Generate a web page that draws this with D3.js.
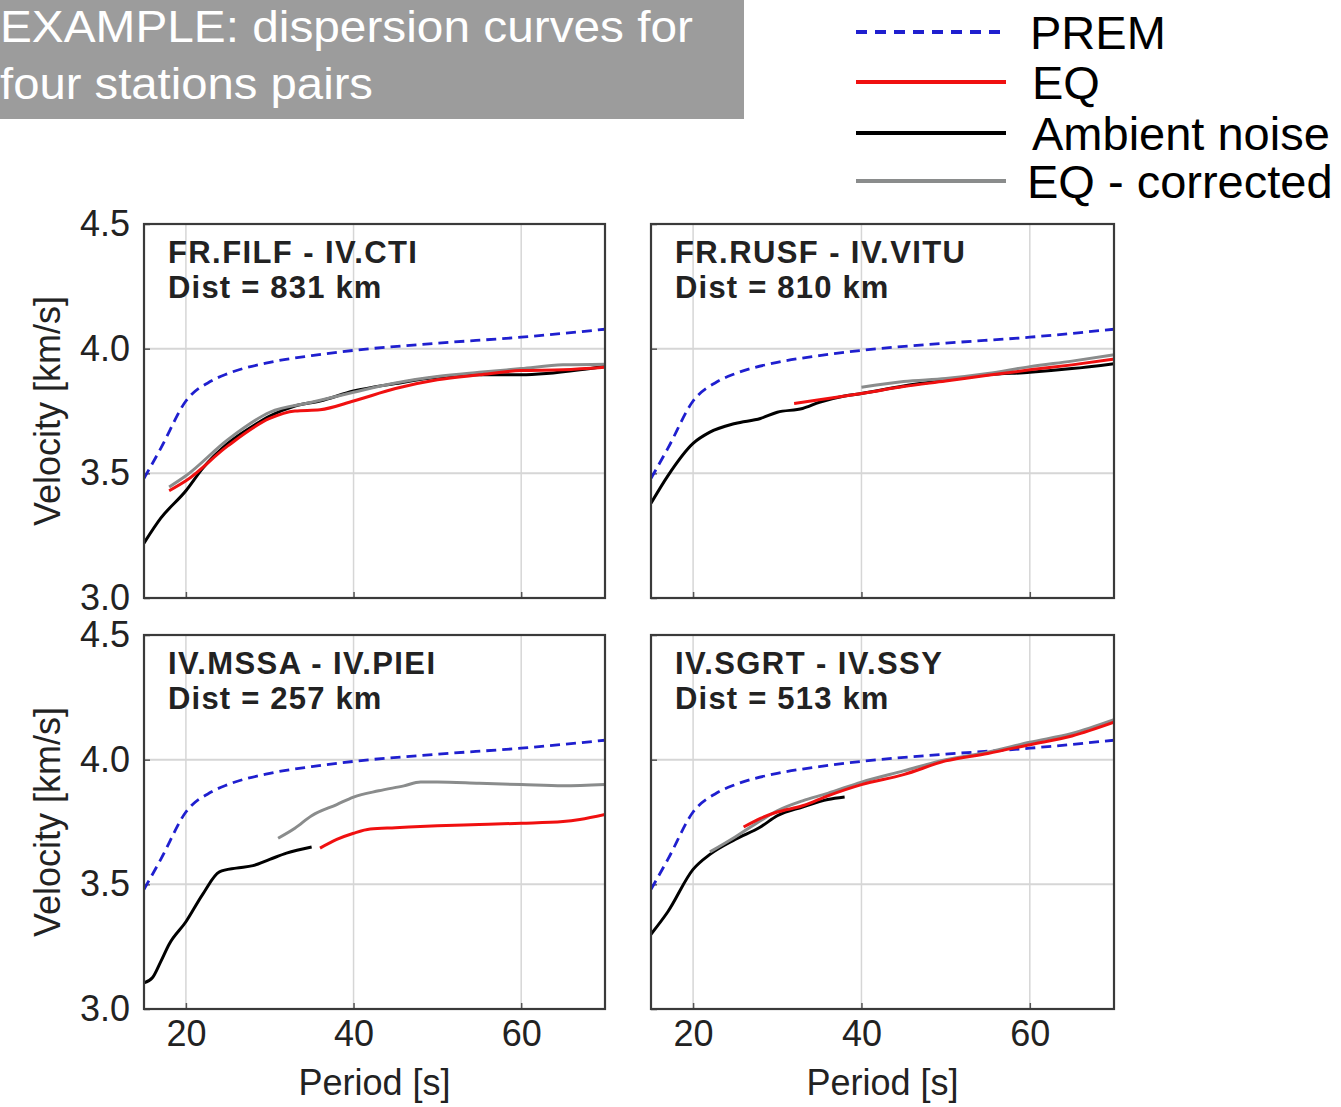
<!DOCTYPE html>
<html>
<head>
<meta charset="utf-8">
<script src="https://cdn.jsdelivr.net/npm/d3@7"></script>
<style>
  html, body { margin: 0; padding: 0; background: #fff; }
  svg { display: block; font-family: "Liberation Sans", Arial, Helvetica, sans-serif; }
</style>
</head>
<body>
<svg id="chart" width="1341" height="1107"></svg>
<script>
// ---------------- DATA ----------------
const titleLines = ["EXAMPLE: dispersion curves for", "four stations pairs"];
const legendLabels = ["PREM", "EQ", "Ambient noise", "EQ - corrected"];
const xTicks = [20, 40, 60];
const yTicks = [3.0, 3.5, 4.0, 4.5];
const yTickLabels = ["3.0", "3.5", "4.0", "4.5"];
const xLabel = "Period [s]";
const yLabel = "Velocity [km/s]";

// PREM reference curve (period s, velocity km/s)
const premPeriod = [15, 17, 20, 23, 25, 30, 35, 40, 50, 60, 70];
const premVel    = [3.48, 3.60, 3.79, 3.87, 3.90, 3.945, 3.972, 3.993, 4.022, 4.046, 4.078];

const panelTitles = ["FR.FILF - IV.CTI", "FR.RUSF - IV.VITU", "IV.MSSA - IV.PIEI", "IV.SGRT - IV.SSY"];
const panelDists  = ["Dist = 831 km", "Dist = 810 km", "Dist = 257 km", "Dist = 513 km"];

// Panel 1: FR.FILF - IV.CTI
const p1AmbPeriod = [15, 17, 20, 22, 25, 28, 30, 33, 36, 40, 45, 50, 55, 60, 63, 67, 70];
const p1AmbVel    = [3.22, 3.32, 3.43, 3.52, 3.62, 3.69, 3.73, 3.77, 3.79, 3.83, 3.86, 3.885, 3.895, 3.895, 3.90, 3.915, 3.93];
const p1EqPeriod  = [18, 20, 25, 30, 33, 36, 40, 45, 50, 55, 60, 65, 70];
const p1EqVel     = [3.43, 3.47, 3.61, 3.72, 3.75, 3.755, 3.79, 3.84, 3.875, 3.895, 3.912, 3.915, 3.925];
const p1CorPeriod = [18, 20, 25, 30, 35, 40, 45, 50, 55, 60, 65, 70];
const p1CorVel    = [3.445, 3.49, 3.635, 3.745, 3.785, 3.825, 3.862, 3.888, 3.905, 3.92, 3.935, 3.938];

// Panel 2: FR.RUSF - IV.VITU
const p2AmbPeriod = [15, 17, 20, 22, 25, 28, 30, 33, 35, 38, 40, 45, 50, 55, 60, 65, 70];
const p2AmbVel    = [3.38, 3.49, 3.62, 3.665, 3.70, 3.72, 3.745, 3.76, 3.785, 3.81, 3.82, 3.85, 3.873, 3.895, 3.905, 3.92, 3.94];
const p2EqPeriod  = [32, 35, 40, 45, 50, 55, 60, 65, 70];
const p2EqVel     = [3.78, 3.795, 3.82, 3.848, 3.87, 3.893, 3.915, 3.935, 3.958];
const p2CorPeriod = [40, 45, 50, 55, 60, 65, 70];
const p2CorVel    = [3.845, 3.868, 3.88, 3.90, 3.928, 3.95, 3.975];

// Panel 3: IV.MSSA - IV.PIEI
const p3AmbPeriod = [15, 16, 17, 18, 20, 22, 24, 26, 28, 30, 32, 35];
const p3AmbVel    = [3.105, 3.125, 3.19, 3.26, 3.35, 3.46, 3.55, 3.565, 3.575, 3.60, 3.625, 3.65];
const p3EqPeriod  = [36, 38, 40, 42, 45, 50, 55, 60, 65, 67, 70];
const p3EqVel     = [3.645, 3.68, 3.705, 3.722, 3.727, 3.735, 3.74, 3.745, 3.752, 3.76, 3.78];
const p3CorPeriod = [31, 33, 35, 38, 40, 43, 46, 48, 50, 55, 60, 65, 70];
const p3CorVel    = [3.685, 3.725, 3.775, 3.82, 3.85, 3.875, 3.895, 3.91, 3.91, 3.905, 3.90, 3.895, 3.90];

// Panel 4: IV.SGRT - IV.SSY
const p4AmbPeriod = [15, 17, 20, 22, 25, 28, 30, 33, 36, 38];
const p4AmbVel    = [3.30, 3.39, 3.56, 3.62, 3.68, 3.73, 3.775, 3.81, 3.84, 3.85];
const p4EqPeriod  = [26, 28, 30, 33, 36, 40, 45, 50, 55, 60, 65, 70];
const p4EqVel     = [3.73, 3.765, 3.79, 3.815, 3.855, 3.90, 3.94, 3.995, 4.025, 4.06, 4.095, 4.15];
const p4CorPeriod = [22, 25, 28, 30, 33, 36, 40, 45, 50, 55, 60, 65, 70];
const p4CorVel    = [3.63, 3.69, 3.755, 3.795, 3.835, 3.865, 3.91, 3.955, 4.00, 4.03, 4.07, 4.105, 4.16];

const panelSeries = [
  { amb: [p1AmbPeriod, p1AmbVel], eq: [p1EqPeriod, p1EqVel], cor: [p1CorPeriod, p1CorVel] },
  { amb: [p2AmbPeriod, p2AmbVel], eq: [p2EqPeriod, p2EqVel], cor: [p2CorPeriod, p2CorVel] },
  { amb: [p3AmbPeriod, p3AmbVel], eq: [p3EqPeriod, p3EqVel], cor: [p3CorPeriod, p3CorVel] },
  { amb: [p4AmbPeriod, p4AmbVel], eq: [p4EqPeriod, p4EqVel], cor: [p4CorPeriod, p4CorVel] }
];

// ---------------- STYLE ----------------
const colors = { prem: "#1f1fcf", eq: "#f01010", amb: "#000000", cor: "#8a8c8c" };
const svg = d3.select("#chart");

// Title box
svg.append("rect").attr("x", 0).attr("y", 0).attr("width", 744).attr("height", 119).attr("fill", "#9c9c9c");
svg.append("text").attr("x", 0).attr("y", 42).attr("font-size", 45)
  .attr("textLength", 693).attr("lengthAdjust", "spacingAndGlyphs")
  .attr("fill", "#fff").text(titleLines[0]);
svg.append("text").attr("x", 0).attr("y", 99).attr("font-size", 45)
  .attr("textLength", 373).attr("lengthAdjust", "spacingAndGlyphs")
  .attr("fill", "#fff").text(titleLines[1]);

// Legend
const legY = [32, 82, 133, 181];
const legTextY = [49, 99, 150, 198];
const legTextX = [1030, 1032, 1032, 1027];
const legColors = [colors.prem, colors.eq, colors.amb, colors.cor];
legendLabels.forEach((lab, i) => {
  svg.append("line").attr("x1", 856).attr("x2", 1006).attr("y1", legY[i]).attr("y2", legY[i])
    .attr("stroke", legColors[i]).attr("stroke-width", 4)
    .attr("stroke-dasharray", i === 0 ? "11,8" : null);
  svg.append("text").attr("x", legTextX[i]).attr("y", legTextY[i]).attr("font-size", 47)
    .attr("fill", "#000").text(lab);
});

// Panels
const cols = [[144, 605], [651, 1114]];
const rows = [[598, 224], [1009, 635]];

panelSeries.forEach((ps, idx) => {
  const col = idx % 2, row = Math.floor(idx / 2);
  const x = d3.scaleLinear().domain([15, 70]).range(cols[col]);
  const y = d3.scaleLinear().domain([3, 4.5]).range(rows[row]);
  const g = svg.append("g");
  const [x0, x1] = cols[col];
  const [y0, y1] = rows[row];

  // grid
  g.append("g").selectAll("line.vg").data(xTicks).join("line")
    .attr("x1", d => x(d)).attr("x2", d => x(d)).attr("y1", y1).attr("y2", y0)
    .attr("stroke", "#d6d6d6").attr("stroke-width", 1.5);
  g.append("g").selectAll("line.hg").data([3.5, 4.0]).join("line")
    .attr("x1", x0).attr("x2", x1).attr("y1", d => y(d)).attr("y2", d => y(d))
    .attr("stroke", "#d6d6d6").attr("stroke-width", 2);

  // axes (ticks inward, labels conditional)
  const xAxis = d3.axisBottom(x).tickValues(xTicks).tickSize(-6).tickPadding(10)
    .tickFormat(row === 1 ? d3.format("d") : () => "");
  const ax = g.append("g").attr("transform", `translate(0,${y0})`).call(xAxis);
  const yAxis = d3.axisLeft(y).tickValues(yTicks).tickSize(-6).tickPadding(14)
    .tickFormat(col === 0 ? ((d, i) => yTickLabels[i]) : () => "");
  const ay = g.append("g").attr("transform", `translate(${x0},0)`).call(yAxis);
  [ax, ay].forEach(a => {
    a.select(".domain").remove();
    a.selectAll(".tick line").attr("stroke", "#555").attr("stroke-width", 1.5);
    a.selectAll(".tick text").attr("font-size", 36).attr("fill", "#222")
      .attr("font-family", "Liberation Sans, Arial, sans-serif");
  });
  ax.selectAll(".tick text").attr("dy", "0.75em");

  // clip
  const clipId = "clip" + idx;
  svg.append("clipPath").attr("id", clipId).append("rect")
    .attr("x", x0).attr("y", y1).attr("width", x1 - x0).attr("height", y0 - y1);

  const line = d3.line().x(d => x(d[0])).y(d => y(d[1])).curve(d3.curveMonotoneX);
  const zip = (a) => a[0].map((p, i) => [p, a[1][i]]);
  const curves = g.append("g").attr("clip-path", `url(#${clipId})`);

  curves.append("path").datum(zip([premPeriod, premVel])).attr("d", line)
    .attr("fill", "none").attr("stroke", colors.prem).attr("stroke-width", 2.8).attr("stroke-dasharray", "10,6");
  curves.append("path").datum(zip(ps.amb)).attr("d", line)
    .attr("fill", "none").attr("stroke", colors.amb).attr("stroke-width", 3);
  curves.append("path").datum(zip(ps.cor)).attr("d", line)
    .attr("fill", "none").attr("stroke", colors.cor).attr("stroke-width", 3);
  curves.append("path").datum(zip(ps.eq)).attr("d", line)
    .attr("fill", "none").attr("stroke", colors.eq).attr("stroke-width", 3);

  // frame
  g.append("rect").attr("x", x0).attr("y", y1).attr("width", x1 - x0).attr("height", y0 - y1)
    .attr("fill", "none").attr("stroke", "#3a3a3a").attr("stroke-width", 2.2);

  // labels
  g.append("text").attr("x", x0 + 24).attr("y", y1 + 39).attr("font-size", 31).attr("font-weight", "bold")
    .attr("letter-spacing", 1.4).attr("fill", "#222").text(panelTitles[idx]);
  g.append("text").attr("x", x0 + 24).attr("y", y1 + 74).attr("font-size", 31).attr("font-weight", "bold")
    .attr("letter-spacing", 1.2).attr("fill", "#222").text(panelDists[idx]);

  if (row === 1) {
    g.append("text").attr("x", (x0 + x1) / 2).attr("y", 1095).attr("text-anchor", "middle")
      .attr("font-size", 36).attr("fill", "#222").text(xLabel);
  }
  if (col === 0) {
    g.append("text").attr("transform", `translate(60,${(y0 + y1) / 2}) rotate(-90)`)
      .attr("text-anchor", "middle").attr("font-size", 36).attr("fill", "#222").text(yLabel);
  }
});
</script>
</body>
</html>
